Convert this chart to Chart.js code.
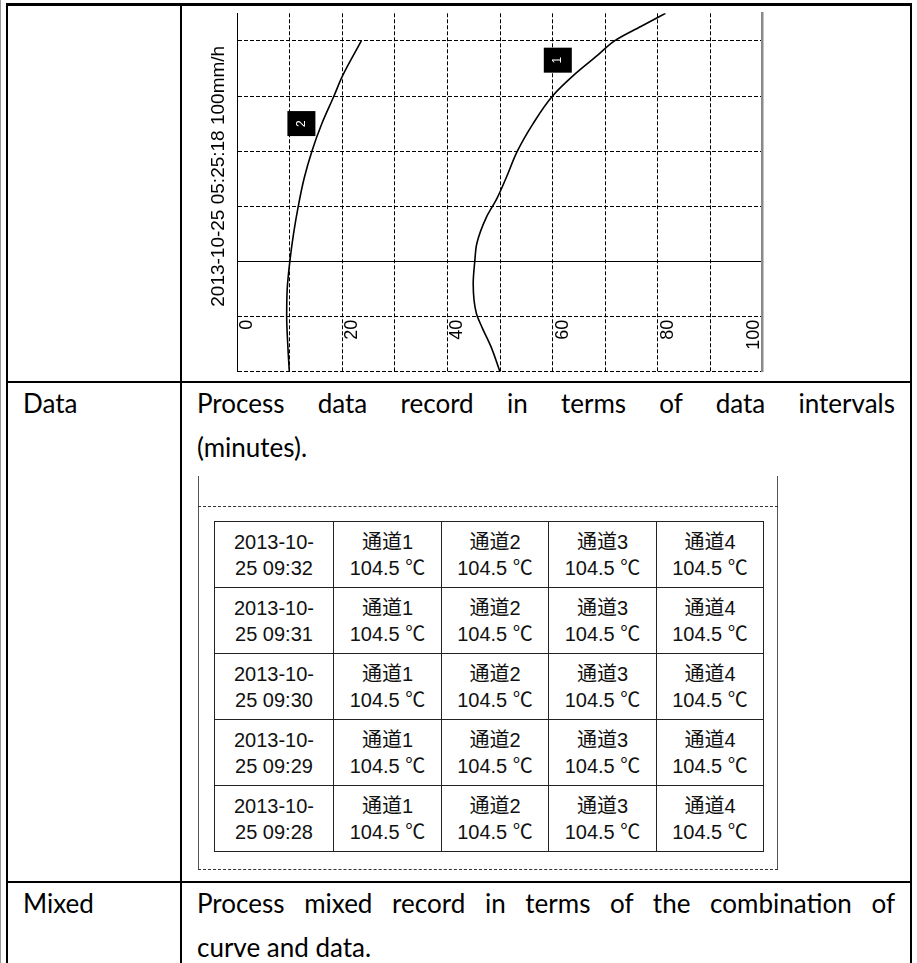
<!DOCTYPE html>
<html>
<head>
<meta charset="utf-8">
<script src="https://cdn.jsdelivr.net/npm/chart.js@4.4.0/dist/chart.umd.min.js"></script>
<style>
  body { margin: 0; background: #fff; width: 917px; height: 963px; position: relative; overflow: hidden; }
  .ln { position: absolute; background: #000; }
  .txt { position: absolute; font-family: Lato, "Open Sans", sans-serif; font-size: 26px; line-height: 44px; color: #000; white-space: nowrap; }
  .just { text-align: justify; text-align-last: justify; white-space: normal; }
  #chartBox { position: absolute; left: 183px; top: 7px; }
  #rec { position: absolute; left: 214px; top: 521px; border-collapse: collapse; table-layout: fixed;
         font-family: "Liberation Sans", Arial, "Noto Sans CJK SC", sans-serif; font-size: 20px; }
  #rec td { border: 1px solid #222; height: 65px; padding: 0; text-align: center; line-height: 26px; color: #111; }
</style>
</head>
<body>
<!-- outer table frame -->
<div class="ln" style="left:0;top:0;width:1px;height:963px;background:#999"></div>
<div class="ln" style="left:6px;top:3px;width:2px;height:960px"></div>
<div class="ln" style="left:910px;top:3px;width:2px;height:960px"></div>
<div class="ln" style="left:6px;top:3px;width:906px;height:3px"></div>
<div class="ln" style="left:180px;top:3px;width:2px;height:960px"></div>
<div class="ln" style="left:6px;top:381px;width:906px;height:2px"></div>
<div class="ln" style="left:6px;top:881px;width:906px;height:2px"></div>

<div id="chartBox"><canvas id="curveChart" width="726" height="373"></canvas></div>

<div class="txt" style="left:23px;top:381px">Data</div>
<div class="txt just" style="left:197px;top:381px;width:698px">Process data record in terms of data intervals</div>
<div class="txt" style="left:197px;top:425px">(minutes).</div>

<!-- data record frame -->
<div class="ln" style="left:198px;top:476px;width:1px;height:393px;background:#555"></div>
<div class="ln" style="left:777px;top:476px;width:1px;height:393px;background:#555"></div>
<div style="position:absolute;left:198px;top:506px;width:580px;border-top:1px dashed #333"></div>
<div style="position:absolute;left:198px;top:869px;width:580px;border-top:1px dashed #333"></div>
<table id="rec">
  <colgroup><col style="width:119px"><col style="width:108px"><col style="width:107px"><col style="width:108px"><col style="width:107px"></colgroup>
  <tbody id="recBody"></tbody>
</table>

<div class="txt" style="left:23px;top:881px">Mixed</div>
<div class="txt just" style="left:197px;top:881px;width:698px">Process mixed record in terms of the combination of</div>
<div class="txt" style="left:197px;top:925px">curve and data.</div>

<script>
// curve 1 (channel 1): position on the 0-100 scale against chart time (grid rows)
const curve1Pos = [50.0, 48.3, 46.6, 45.5, 44.9, 45.2, 45.6, 47.4, 49.3, 51.1, 53.3, 56.3, 60.0, 64.3, 68.6, 71.8, 76.8, 81.5];
const curve1Time = [0, 0.45, 0.8, 1.06, 1.6, 2.0, 2.33, 2.8, 3.12, 3.5, 4.0, 4.5, 5.0, 5.4, 5.74, 6.0, 6.26, 6.5];
// curve 2 (channel 2)
const curve2Pos = [9.9, 9.6, 9.4, 9.5, 10.0, 10.7, 11.6, 12.7, 14.2, 16.1, 18.4, 20.0, 23.6];
const curve2Time = [0, 0.5, 1.0, 1.5, 2.0, 2.5, 3.0, 3.5, 4.0, 4.5, 5.0, 5.36, 6.0];

const xTickLabels = [0, 20, 40, 60, 80, 100];
const yTitle = "2013-10-25 05:25:18 100mm/h";

const markerText = ["1", "2"];
const markerPos = [61.0, 12.2];
const markerTime = [5.65, 4.5];

const recordTimes = ["2013-10-25 09:32", "2013-10-25 09:31", "2013-10-25 09:30", "2013-10-25 09:29", "2013-10-25 09:28"];
const channelNames = ["通道1", "通道2", "通道3", "通道4"];
const channelValues = ["104.5 ℃", "104.5 ℃", "104.5 ℃", "104.5 ℃"];

// record table
const body = document.getElementById("recBody");
for (const t of recordTimes) {
  const tr = document.createElement("tr");
  const td = document.createElement("td");
  td.innerHTML = t.slice(0, 8) + "<br>" + t.slice(8).trim();
  tr.appendChild(td);
  channelNames.forEach((name, i) => {
    const c = document.createElement("td");
    c.innerHTML = name + "<br>" + channelValues[i];
    tr.appendChild(c);
  });
  body.appendChild(tr);
}

function toPoints(pos, time) {
  return pos.map((p, i) => ({ x: p, y: time[i] }));
}

const overlay = {
  id: "overlay",
  afterDatasetsDraw(chart) {
    const { ctx, chartArea, scales } = chart;
    const x = scales.x, y = scales.y;

    ctx.save();
    ctx.fillStyle = "#000";
    ctx.font = '19px "Liberation Sans", Arial, sans-serif';
    ctx.textAlign = "center";
    ctx.textBaseline = "middle";
    ctx.translate(chartArea.left - 19, chartArea.top + 163);
    ctx.rotate(-Math.PI / 2);
    ctx.fillText(yTitle, 0, 0);
    ctx.restore();

    // tick labels sit inside the plot, rotated
    ctx.save();
    ctx.font = '18px "Liberation Sans", Arial, sans-serif';
    ctx.fillStyle = "#000";
    ctx.textAlign = "right";
    ctx.textBaseline = "middle";
    for (const v of xTickLabels) {
      const px = x.getPixelForValue(v);
      const cx = v === x.max ? px - 9 : px + 10;
      ctx.save();
      ctx.translate(cx, chartArea.bottom - 52);
      ctx.rotate(-Math.PI / 2);
      ctx.fillText(String(v), 0, 0);
      ctx.restore();
    }
    ctx.restore();

    // channel markers
    markerText.forEach((m, i) => {
      const px = x.getPixelForValue(markerPos[i]);
      const py = y.getPixelForValue(markerTime[i]);
      ctx.save();
      ctx.fillStyle = "#000";
      ctx.fillRect(px - 14, py - 12.5, 28, 25);
      ctx.fillStyle = "#fff";
      ctx.font = '12px "Liberation Sans", Arial, sans-serif';
      ctx.textAlign = "center";
      ctx.textBaseline = "middle";
      ctx.translate(px, py);
      ctx.rotate(-Math.PI / 2);
      ctx.fillText(m, 0, 0);
      ctx.restore();
    });
  }
};

const dashed = [4, 2];

new Chart(document.getElementById("curveChart"), {
  type: "scatter",
  data: {
    datasets: [
      {
        data: toPoints(curve1Pos, curve1Time),
        showLine: true,
        borderColor: "#000",
        borderWidth: 1.6,
        pointRadius: 0,
        indexAxis: "y",
        cubicInterpolationMode: "monotone",
      },
      {
        data: toPoints(curve2Pos, curve2Time),
        showLine: true,
        borderColor: "#000",
        borderWidth: 1.6,
        pointRadius: 0,
        indexAxis: "y",
        cubicInterpolationMode: "monotone",
      },
    ],
  },
  options: {
    responsive: false,
    animation: false,
    layout: { padding: { left: 54.3, right: 138.3, top: 6.3, bottom: 8.3 } },
    plugins: { legend: { display: false }, tooltip: { enabled: false } },
    scales: {
      x: {
        type: "linear",
        min: 0,
        max: 100,
        ticks: { display: false, stepSize: 10 },
        grid: {
          drawTicks: false,
          color: (c) => (c.tick && (c.tick.value === 0 || c.tick.value === 100) ? "rgba(0,0,0,0)" : "#000"),
        },
        border: { display: false, dash: dashed },
      },
      y: {
        type: "linear",
        min: 0,
        max: 6.5,
        ticks: { display: false, stepSize: 1 },
        grid: {
          drawTicks: false,
          color: (c) => (c.tick && Number.isInteger(c.tick.value) ? "#000" : "rgba(0,0,0,0)"),
        },
        border: {
          display: true,
          color: "#000",
          width: 1,
          dash: (c) => (c.tick && c.tick.value === 2 ? [] : dashed),
        },
      },
      y2: {
        type: "linear",
        position: "right",
        min: 0,
        max: 6.5,
        ticks: { display: false },
        grid: { display: false },
        border: { display: true, color: "#8a8a8a", width: 2.5 },
      },
    },
  },
  plugins: [overlay],
});
</script>
</body>
</html>
